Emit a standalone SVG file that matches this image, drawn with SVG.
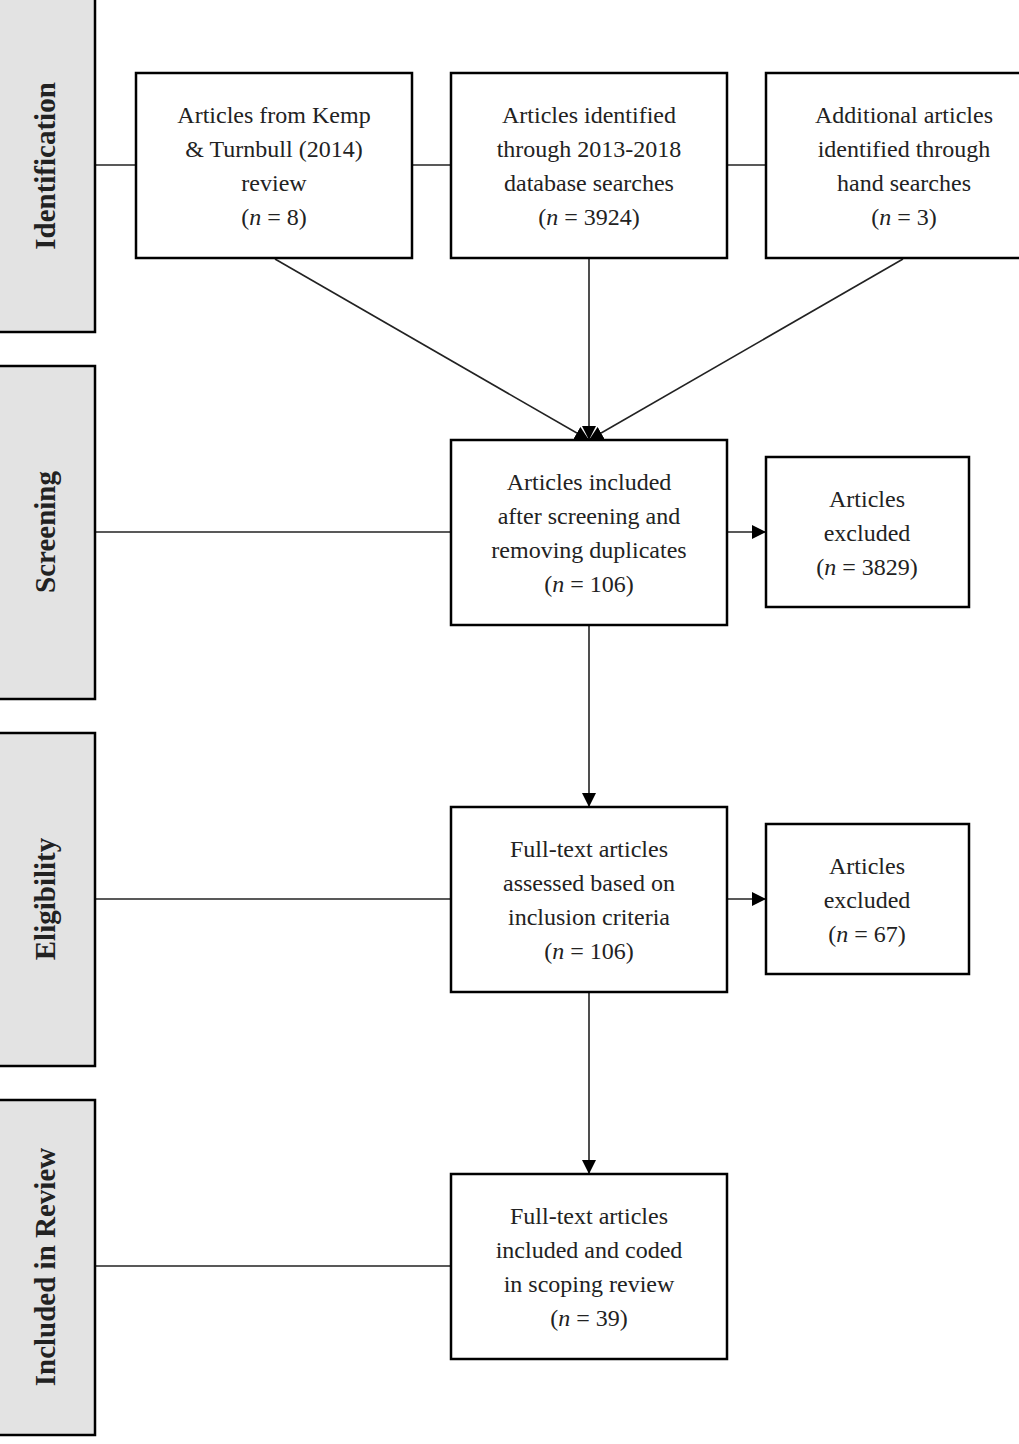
<svg xmlns="http://www.w3.org/2000/svg" width="1019" height="1444" viewBox="0 0 1019 1444">
<style>
.b{fill:#fff;stroke:#000;stroke-width:2.5}
.s{fill:#e3e3e3;stroke:#000;stroke-width:2.5}
.t{font-family:"Liberation Serif",serif;font-size:24px;text-anchor:middle;fill:#222}
.l{font-family:"Liberation Serif",serif;font-size:29px;font-weight:bold;text-anchor:middle;fill:#222}
.c{stroke:#222;stroke-width:1.6;fill:none}
</style>
<defs><marker id="a" viewBox="0 0 10 10" refX="10" refY="5" markerWidth="9" markerHeight="9" markerUnits="userSpaceOnUse" orient="auto"><path d="M0,0L10,5L0,10z" fill="#000"/></marker>
<marker id="a2" viewBox="0 0 10 10" refX="10" refY="5" markerWidth="14" markerHeight="14" markerUnits="userSpaceOnUse" orient="auto"><path d="M0,0L10,5L0,10z" fill="#000"/></marker></defs>
<g id="connectors">
<line class="c" x1="95" y1="165" x2="766" y2="165"/>
<line class="c" x1="95" y1="532" x2="451" y2="532"/>
<line class="c" x1="95" y1="899" x2="451" y2="899"/>
<line class="c" x1="95" y1="1266" x2="451" y2="1266"/>
<line class="c" x1="275" y1="259" x2="589" y2="440" marker-end="url(#a2)"/>
<line class="c" x1="589" y1="259" x2="589" y2="440" marker-end="url(#a2)"/>
<line class="c" x1="903" y1="259" x2="589" y2="440" marker-end="url(#a2)"/>
<line class="c" x1="727" y1="532" x2="766" y2="532" marker-end="url(#a2)"/>
<line class="c" x1="727" y1="899" x2="766" y2="899" marker-end="url(#a2)"/>
<line class="c" x1="589" y1="626" x2="589" y2="807" marker-end="url(#a2)"/>
<line class="c" x1="589" y1="993" x2="589" y2="1174" marker-end="url(#a2)"/>
</g>
<g id="lab1"><rect class="s" x="-5" y="-5" width="100" height="337"/><text class="l" transform="translate(45,166) rotate(-90)" dy="10">Identification</text></g>
<g id="lab2"><rect class="s" x="-5" y="366" width="100" height="333"/><text class="l" transform="translate(45,532) rotate(-90)" dy="10">Screening</text></g>
<g id="lab3"><rect class="s" x="-5" y="733" width="100" height="333"/><text class="l" transform="translate(45,899) rotate(-90)" dy="10">Eligibility</text></g>
<g id="lab4"><rect class="s" x="-5" y="1100" width="100" height="335"/><text class="l" transform="translate(45,1267) rotate(-90)" dy="10">Included in Review</text></g>
<g id="n1"><rect class="b" x="136" y="73" width="276" height="185"/><text class="t" x="274" y="123">Articles from Kemp</text><text class="t" x="274" y="157">&amp; Turnbull (2014)</text><text class="t" x="274" y="191">review</text><text class="t" x="274" y="225">(<tspan font-style="italic">n</tspan> = 8)</text></g>
<g id="n2"><rect class="b" x="451" y="73" width="276" height="185"/><text class="t" x="589" y="123">Articles identified</text><text class="t" x="589" y="157">through 2013-2018</text><text class="t" x="589" y="191">database searches</text><text class="t" x="589" y="225">(<tspan font-style="italic">n</tspan> = 3924)</text></g>
<g id="n3"><rect class="b" x="766" y="73" width="260" height="185"/><text class="t" x="904" y="123">Additional articles</text><text class="t" x="904" y="157">identified through</text><text class="t" x="904" y="191">hand searches</text><text class="t" x="904" y="225">(<tspan font-style="italic">n</tspan> = 3)</text></g>
<g id="n4"><rect class="b" x="451" y="440" width="276" height="185"/><text class="t" x="589" y="490">Articles included</text><text class="t" x="589" y="524">after screening and</text><text class="t" x="589" y="558">removing duplicates</text><text class="t" x="589" y="592">(<tspan font-style="italic">n</tspan> = 106)</text></g>
<g id="n5"><rect class="b" x="766" y="457" width="203" height="150"/><text class="t" x="867" y="507">Articles</text><text class="t" x="867" y="541">excluded</text><text class="t" x="867" y="575">(<tspan font-style="italic">n</tspan> = 3829)</text></g>
<g id="n6"><rect class="b" x="451" y="807" width="276" height="185"/><text class="t" x="589" y="857">Full-text articles</text><text class="t" x="589" y="891">assessed based on</text><text class="t" x="589" y="925">inclusion criteria</text><text class="t" x="589" y="959">(<tspan font-style="italic">n</tspan> = 106)</text></g>
<g id="n7"><rect class="b" x="766" y="824" width="203" height="150"/><text class="t" x="867" y="874">Articles</text><text class="t" x="867" y="908">excluded</text><text class="t" x="867" y="942">(<tspan font-style="italic">n</tspan> = 67)</text></g>
<g id="n8"><rect class="b" x="451" y="1174" width="276" height="185"/><text class="t" x="589" y="1224">Full-text articles</text><text class="t" x="589" y="1258">included and coded</text><text class="t" x="589" y="1292">in scoping review</text><text class="t" x="589" y="1326">(<tspan font-style="italic">n</tspan> = 39)</text></g>
</svg>
